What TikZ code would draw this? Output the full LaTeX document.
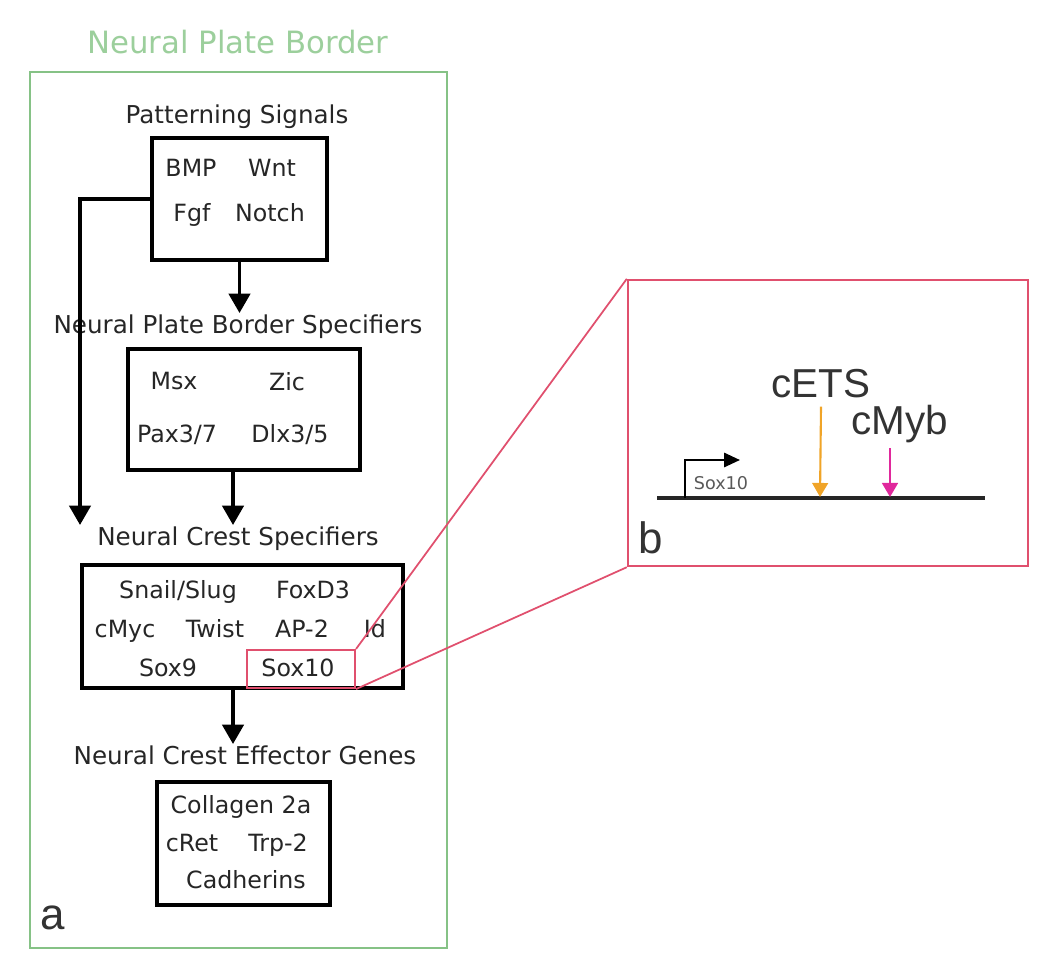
\documentclass[tikz,border=0pt]{standalone}
\usepackage{fontspec}
\setmainfont{DejaVu Sans}
\newfontfamily\arialf{Liberation Sans}
\usetikzlibrary{arrows.meta,calc}
\definecolor{frameg}{HTML}{86C286}
\definecolor{titleg}{HTML}{9CCF9C}
\definecolor{pinkred}{HTML}{E0506E}
\definecolor{etsor}{HTML}{F0A428}
\definecolor{mybmag}{HTML}{E0289C}
\tikzset{
  gbox/.style={draw=black,line width=1.8pt,minimum width=#1},
  lbl/.style={font=\fontsize{14}{16}\selectfont,text=black!85,inner sep=1pt,text height=10.5pt,text depth=3pt},
  itm/.style={font=\fontsize{13.5}{16}\selectfont,text=black!85,inner sep=1pt,text height=10.5pt,text depth=3pt},
  flow/.style={line width=2.2pt,-{Triangle[length=11pt,width=12pt]}},
  big/.style={font=\arialf\fontsize{23}{25}\selectfont,text=black!80,inner sep=0pt},
}
\begin{document}
\begin{tikzpicture}[x=0.02cm,y=-0.02cm]
\useasboundingbox (0,0) rectangle (1050,974);
% outer frame
\node[draw=frameg,line width=1.4pt,minimum width=8.34cm,minimum height=17.52cm,inner sep=0] (frame) at (238.5,510) {};
\node[font=\fontsize{17.5}{19}\selectfont,text=titleg] (title) at (238,42) {Neural Plate Border};
% labels
\node[lbl] (l1) at (237,117) {Patterning Signals};
\node[lbl] (l2) at (238,327) {Neural Plate Border Specifiers};
\node[lbl] (l3) at (238,539) {Neural Crest Specifiers};
\node[lbl] (l4) at (245,758) {Neural Crest Effector Genes};
% boxes
\node[gbox=3.5cm,minimum height=2.44cm] (b1) at (239.5,199) {};
\node[gbox=4.64cm,minimum height=2.42cm] (b2) at (244,409.5) {};
\node[gbox=6.42cm,minimum height=2.46cm] (b3) at (242.5,626.5) {};
\node[gbox=3.46cm,minimum height=2.46cm] (b4) at (243.5,843.5) {};
% box 1 items
\node[itm] (bmp) at (191,170) {BMP};
\node[itm] (wnt) at (272,170) {Wnt};
\node[itm] (fgf) at (192,215) {Fgf};
\node[itm] (notch) at (270,215) {Notch};
% box 2 items
\node[itm] (msx) at (174,383) {Msx};
\node[itm] (zic) at (287,384) {Zic};
\node[itm] (pax) at (177,436) {Pax3/7};
\node[itm] (dlx) at (290,436) {Dlx3/5};
% box 3 items
\node[itm] (snail) at (178,592) {Snail/Slug};
\node[itm] (foxd) at (313,592) {FoxD3};
\node[itm] (cmyc) at (125,631) {cMyc};
\node[itm] (twist) at (215,631) {Twist};
\node[itm] (ap2) at (302,631) {AP-2};
\node[itm] (id) at (375,631) {Id};
\node[itm] (sox9) at (168,670) {Sox9};
\node[itm] (sox10) at (298,670) {Sox10};
% box 4 items
\node[itm] (col) at (241,807) {Collagen 2a};
\node[itm] (cret) at (192,845) {cRet};
\node[itm] (trp) at (278,845) {Trp-2};
\node[itm] (cad) at (246,882) {Cadherins};
\node[big,font=\arialf\fontsize{25}{27}\selectfont] (pa) at (53,918) {a};
% arrows
\draw[flow] (b1.south) -- (b1.south |- l2.north);
\coordinate (lefttip) at (80,525);
\draw[flow] (b1.west) -| (lefttip);
\draw[flow] ([xshift=-0.22cm]b2.south) -- ([xshift=-0.22cm]b2.south |- l3.north);
\draw[flow] ([xshift=-0.19cm]b3.south) -- ([xshift=-0.19cm]b3.south |- l4.north);
% panel b
\node[draw=pinkred,line width=1.2pt,minimum width=2.16cm,minimum height=0.76cm,inner sep=0] (s10box) at (301,669) {};
\node[draw=pinkred,line width=1.4pt,minimum width=8cm,minimum height=5.72cm,inner sep=0] (pb) at (828,423) {};
\draw[pinkred,line width=1pt] (s10box.north east) -- (pb.north west);
\draw[pinkred,line width=1pt] (s10box.south east) -- (pb.south west);
\coordinate (dnaL) at (657,498);
\coordinate (dnaR) at (985,498);
\draw[line width=2.8pt,black!85] (dnaL) -- (dnaR);
\coordinate (prom) at (685,498);
\coordinate (promtip) at (740,460);
\draw[line width=1.4pt,-{Triangle[length=9pt,width=8pt]}] (prom) |- (promtip);
\node[font=\fontsize{10}{12}\selectfont,text=black!65,inner sep=0] (sgene) at (721,483) {Sox10};
\node[big] (cets) at (821,384) {cETS};
\node[big] (cmyb) at (900,424) {cMyb};
\coordinate (etsT) at (820,497);
\coordinate (mybT) at (890,497);
\draw[etsor,line width=1.2pt,-{Triangle[length=8pt,width=9pt]}] (cets.south) ++(0,8) -- (etsT);
\draw[mybmag,line width=1.3pt,-{Triangle[length=8pt,width=9pt]}] (890,448) -- (mybT);
\node[big,font=\arialf\fontsize{25}{27}\selectfont] (pbl) at (651,538) {b};
\end{tikzpicture}
\end{document}
